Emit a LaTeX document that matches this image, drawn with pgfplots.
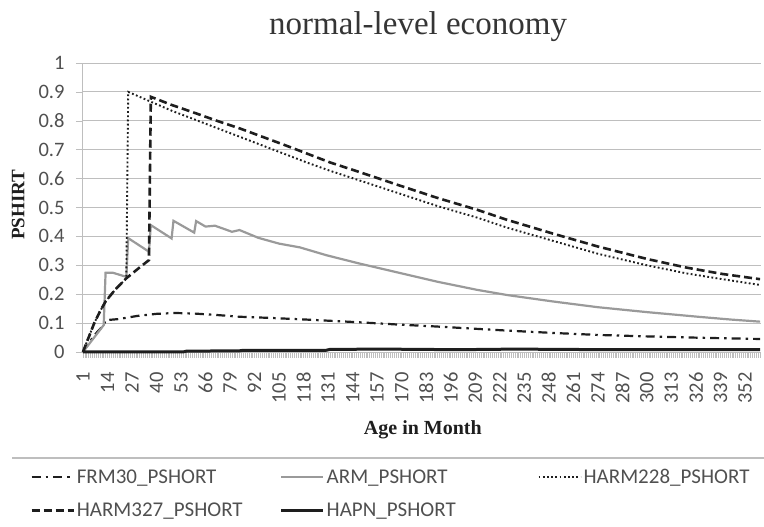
\documentclass[border=0pt]{standalone}
\usepackage{pgfplots}
\pgfplotsset{compat=1.18}
\usepackage{fontspec}
\setmainfont{Liberation Serif}
\newfontfamily\calfont{Carlito}
\definecolor{armgray}{HTML}{9A9A9A}
\definecolor{gridgray}{HTML}{BEBEBE}
\definecolor{txtgray}{HTML}{505050}
\definecolor{ln}{HTML}{1E1E1E}

\pgfplotstableread{
m v
1 0
4 0.03
8 0.065
12 0.093
13 0.11
20 0.114
30 0.125
40 0.132
50 0.135
60 0.133
72 0.128
84 0.122
100 0.118
120 0.112
147 0.103
168 0.095
189 0.088
210 0.080
226 0.074
250 0.066
274 0.059
300 0.054
330 0.049
360 0.045
}\frm

\pgfplotstableread{
m v
1 0
12 0.093
13 0.274
17 0.274
24 0.260
25 0.394
36 0.347
37 0.439
48 0.393
49 0.454
60 0.413
61 0.453
66 0.434
71 0.437
80 0.416
84 0.422
94 0.395
105 0.375
116 0.362
130 0.335
147 0.307
168 0.275
189 0.243
210 0.215
226 0.197
250 0.175
274 0.155
300 0.138
327 0.122
345 0.112
360 0.105
}\arm

\pgfplotstableread{
m v
1 0
4 0.05
7 0.10
10 0.14
13 0.175
18 0.215
24 0.255
25 0.900
37 0.866
48 0.835
60 0.805
72 0.775
84 0.745
96 0.715
108 0.685
120 0.655
132 0.627
147 0.595
168 0.550
189 0.505
210 0.465
226 0.430
250 0.385
274 0.340
300 0.300
321 0.272
340 0.252
360 0.232
}\hta

\pgfplotstableread{
m v
1 0
4 0.05
7 0.10
10 0.14
13 0.175
18 0.215
24 0.255
30 0.287
36 0.318
37 0.883
48 0.855
60 0.828
72 0.800
84 0.774
96 0.745
108 0.716
120 0.686
132 0.656
147 0.624
168 0.578
189 0.533
210 0.492
226 0.457
250 0.410
274 0.365
300 0.322
321 0.292
340 0.270
360 0.252
}\htb

\pgfplotstableread{
m v
1 0
54 0
56 0.003
84 0.004
86 0.006
130 0.006
132 0.009
160 0.010
200 0.008
230 0.010
280 0.008
360 0.008
}\hapn

\begin{document}
\begin{tikzpicture}
\begin{axis}[
  at={(82pt,175pt)}, anchor=south west,
  scale only axis, width=679pt, height=289pt,
  xmin=0.5, xmax=360.5, ymin=0, ymax=1,
  clip=false,
  axis x line*=bottom, axis y line*=left,
  axis line style={gridgray, line width=0.8pt, -},
  xtick={1,14,27,40,53,66,79,92,105,118,131,144,157,170,183,196,209,222,235,248,261,274,287,300,313,326,339,352},
  xticklabels={1,14,27,40,53,66,79,92,105,118,131,144,157,170,183,196,209,222,235,248,261,274,287,300,313,326,339,352},
  minor xtick={1,...,360},
  ytick={0,0.1,0.2,0.3,0.4,0.5,0.6,0.7,0.8,0.9,1},
  yticklabels={0,0.1,0.2,0.3,0.4,0.5,0.6,0.7,0.8,0.9,1},
  ymajorgrids, major grid style={gridgray, line width=0.8pt},
  tick align=outside,
  major tick length=6pt, minor tick length=6pt,
  tick style={gridgray, line width=0.5pt},
  xticklabel style={rotate=90, anchor=east, font=\calfont\fontsize{20.5}{20.5}\selectfont, text=txtgray, xshift=-11pt},
  yticklabel style={font=\calfont\fontsize{20.5}{20.5}\selectfont, text=txtgray, xshift=-8pt},
  title={normal-level economy},
  title style={at={(axis description cs:0.495,1.105)}, anchor=center, font=\fontsize{33}{33}\selectfont, text=ln!90},
  xlabel={Age in Month},
  xlabel style={at={(axis description cs:0.502,-0.27)}, anchor=center, font=\bfseries\fontsize{20}{20}\selectfont, text=ln},
  ylabel={PSHIRT},
  ylabel style={at={(axis description cs:-0.094,0.509)}, anchor=center, font=\bfseries\fontsize{19}{19}\selectfont, text=ln},
  legend columns=3,
  legend cell align=left,
  legend image code/.code={\draw[#1] (0pt,0pt) -- (42pt,0pt);},
  legend style={at={(axis description cs:-0.081,-0.391)}, anchor=north west, draw=none, fill=none,
    font=\calfont\fontsize{21}{21}\selectfont, text=txtgray, row sep=14pt,
    /tikz/column 2/.style={column sep=35pt},
    /tikz/column 4/.style={column sep=80pt}},
]
\addplot[ln, line width=2.2pt, dash pattern=on 9pt off 5pt on 2.5pt off 5pt] table[x=m, y=v] {\frm};
\addlegendentry{FRM30\_PSHORT}
\addplot[armgray, line width=2.2pt] table[x=m, y=v] {\arm};
\addlegendentry{ARM\_PSHORT}
\addplot[ln, line width=1.9pt, dash pattern=on 1.8pt off 2.4pt] table[x=m, y=v] {\hta};
\addlegendentry{HARM228\_PSHORT}
\addplot[ln, line width=2.6pt, dash pattern=on 8pt off 4pt] table[x=m, y=v] {\htb};
\addlegendentry{HARM327\_PSHORT}
\addplot[ln, line width=3pt] table[x=m, y=v] {\hapn};
\addlegendentry{HAPN\_PSHORT}
\end{axis}
\draw[gridgray, line width=1.2pt] (12pt,69pt) -- (764pt,69pt);
\pgfresetboundingbox
\useasboundingbox (0,0) rectangle (764pt,527pt);
\end{tikzpicture}
\end{document}
